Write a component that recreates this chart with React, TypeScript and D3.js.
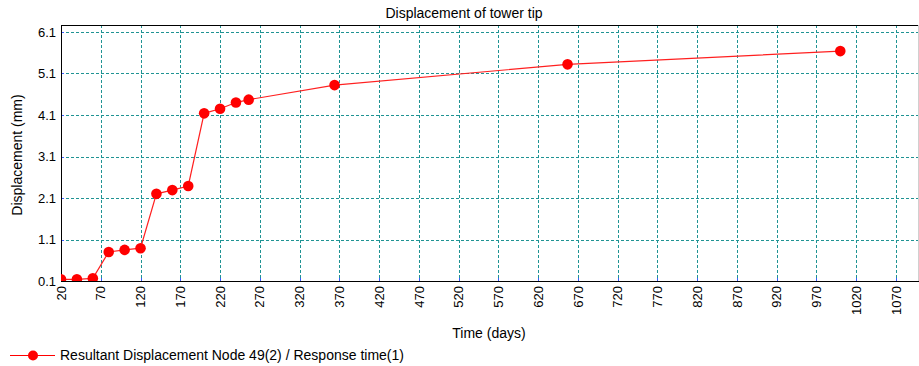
import React from "react";
import * as d3 from "d3";

const days = [20, 40, 60, 80, 100, 120, 140, 160, 180, 200, 220, 240, 256, 364, 657, 1000];
const displacement = [0.14, 0.14, 0.165, 0.8, 0.85, 0.89, 2.2, 2.29, 2.39, 4.14, 4.25, 4.4, 4.47, 4.82, 5.32, 5.64];
const xTicks = [20, 70, 120, 170, 220, 270, 320, 370, 420, 470, 520, 570, 620, 670, 720, 770, 820, 870, 920, 970, 1020, 1070];
const yTicks = [0.1, 1.1, 2.1, 3.1, 4.1, 5.1, 6.1];
const title = "Displacement of tower tip";
const xTitle = "Time (days)";
const yTitle = "Displacement (mm)";
const legendLabel = "Resultant Displacement Node 49(2) / Response time(1)";

const W = 919, H = 366;
const L = 61, R = 918, T = 25, B = 281;
const FONT = "Arial, 'Liberation Sans', sans-serif";
const GRID = "#1f9393";

export default function App() {
  const x = d3.scaleLinear().domain([20, 20 + (R - L) / 0.7952]).range([L, R]);
  const y = d3.scaleLinear().domain([0.1, 6.1]).range([B, 32]);
  const pts = days.map((d, i) => [x(d), y(displacement[i])] as [number, number]);
  const line = d3.line()(pts) || "";
  return (
    <svg width={W} height={H} style={{ position: "absolute", left: 0, top: 0, background: "#fff" }} fontFamily={FONT}>
      <defs>
        <clipPath id="plot"><rect x={L} y={T} width={R - L} height={B - T} /></clipPath>
      </defs>
      <rect x={0} y={0} width={W} height={H} fill="#fff" />
      {/* grid */}
      {yTicks.map((t) => (
        <line key={"gy" + t} x1={L} x2={R} y1={Math.round(y(t)) + 0.5} y2={Math.round(y(t)) + 0.5} stroke={GRID} strokeDasharray="3,2" />
      ))}
      {xTicks.map((t) => (
        <line key={"gx" + t} x1={Math.round(x(t)) + 0.5} x2={Math.round(x(t)) + 0.5} y1={T} y2={B} stroke={GRID} strokeDasharray="3,2" />
      ))}
      {/* small blue ticks */}
      {xTicks.map((t) => (
        <line key={"tx" + t} x1={Math.round(x(t)) + 0.5} x2={Math.round(x(t)) + 0.5} y1={B - 3} y2={B} stroke="#3b5bff" />
      ))}
      {yTicks.map((t) => (
        <line key={"ty" + t} x1={L} x2={L + 3} y1={Math.round(y(t)) + 0.5} y2={Math.round(y(t)) + 0.5} stroke="#3b5bff" />
      ))}
      {/* borders */}
      <line x1={L} x2={R} y1={T + 0.5} y2={T + 0.5} stroke="#000" />
      <line x1={R + 0.5} x2={R + 0.5} y1={T} y2={B} stroke="#d0d0d0" />
      <line x1={L + 0.5} x2={L + 0.5} y1={T} y2={B + 1} stroke="#000" />
      <line x1={L} x2={R + 1} y1={B + 0.5} y2={B + 0.5} stroke="#000" />
      {/* data */}
      <g clipPath="url(#plot)">
        <path d={line} fill="none" stroke="#ff2020" strokeWidth={1.2} />
        {pts.map((p, i) => (
          <circle key={i} cx={p[0]} cy={p[1]} r={5.3} fill="#ff0000" />
        ))}
      </g>
      {/* y tick labels */}
      {yTicks.map((t) => (
        <text key={"ly" + t} x={56} y={y(t)} dy="0.36em" textAnchor="end" fontSize={13} fill="#000">{t.toFixed(1)}</text>
      ))}
      {/* x tick labels */}
      {xTicks.map((t) => (
        <text key={"lx" + t} transform={`translate(${x(t)},${286}) rotate(-90)`} dy="0.36em" textAnchor="end" fontSize={13} fill="#000">{t}</text>
      ))}
      <text x={464} y={18} textAnchor="middle" fontSize={14} fill="#000">{title}</text>
      <text x={489} y={338} textAnchor="middle" fontSize={14} fill="#000">{xTitle}</text>
      <text transform={`translate(22,${155}) rotate(-90)`} textAnchor="middle" fontSize={14} fill="#000">{yTitle}</text>
      {/* legend */}
      <line x1={10} x2={55} y1={355.5} y2={355.5} stroke="#ff0000" strokeWidth={1.2} />
      <circle cx={33} cy={355.5} r={5} fill="#ff0000" />
      <text x={60} y={360} fontSize={14} fill="#000">{legendLabel}</text>
    </svg>
  );
}
